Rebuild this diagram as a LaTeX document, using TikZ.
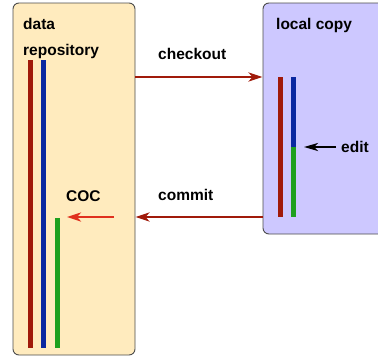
\documentclass[tikz,border=0pt]{standalone}
\usepackage{fontspec}
\setmainfont{Liberation Sans}
\usepackage{xcolor}
\usetikzlibrary{arrows.meta}

\definecolor{repofill}{HTML}{FFEBBE}
\definecolor{localfill}{HTML}{CDC8FF}
\definecolor{barred}{HTML}{A01A0A}
\definecolor{barblue}{HTML}{0A28A0}
\definecolor{bargreen}{HTML}{1EA01E}
\definecolor{cocred}{HTML}{E0301E}

\tikzset{
  box/.style={draw=black!70,line width=0.9pt,rounded corners=6pt,inner sep=0pt},
  bar/.style={line width=5pt},
  flow/.style={barred,line width=2.7pt,-{Stealth[length=14pt,width=9pt,inset=4pt]}},
  lbl/.style={anchor=base west,inner sep=0pt,font=\fontsize{15.5}{18}\selectfont\bfseries}
}

\begin{document}
\begin{tikzpicture}[x=1pt,y=-1pt]
\useasboundingbox (0,0) rectangle (378,357);
\clip (0,0) rectangle (378,357);
% the two boxes
\node[box,fill=repofill,minimum width=122pt,minimum height=352pt] (repo) at (74,179) {};
\node[box,fill=localfill,minimum width=127pt,minimum height=231pt] (local) at (326.5,118.5) {};
\node[lbl] (data) at (23,29) {data};
\node[lbl] (reposit) at (23,55) {repository};
\node[lbl] (lcopy) at (276,29) {local copy};
% versions in the repository
\draw[bar,barred](30.5,60)--(30.5,348);
\draw[bar,barblue](43.5,60)--(43.5,348);
\draw[bar,bargreen](57,218)--(57,348);
% versions in the local copy
\draw[bar,barred](280,77)--(280,217);
\draw[bar,barblue](293.5,77)--(293.5,147);
\draw[bar,bargreen](293.5,147)--(293.5,217);
% checkout and commit
\node[lbl] (checkout) at (158,59) {checkout};
\node[lbl] (commit) at (158,200) {commit};
\draw[flow](repo.east|-0,77)--(local.west|-0,77);
\draw[flow](local.west|-0,217)--(repo.east|-0,217);
% COC and edit
\node[lbl] (coc) at (66,201) {COC};
\coordinate (cocfrom) at (114,217);
\coordinate (cocto) at (67,217);
\draw[flow,cocred](cocfrom)--(cocto);
\node[lbl] (edit) at (341,152) {edit};
\coordinate (editto) at (304,147);
\draw[line width=2.4pt,-{Stealth[length=14pt,width=8pt,inset=4pt]}](edit.west|-editto)++(-5,0)--(editto);
\end{tikzpicture}
\end{document}
